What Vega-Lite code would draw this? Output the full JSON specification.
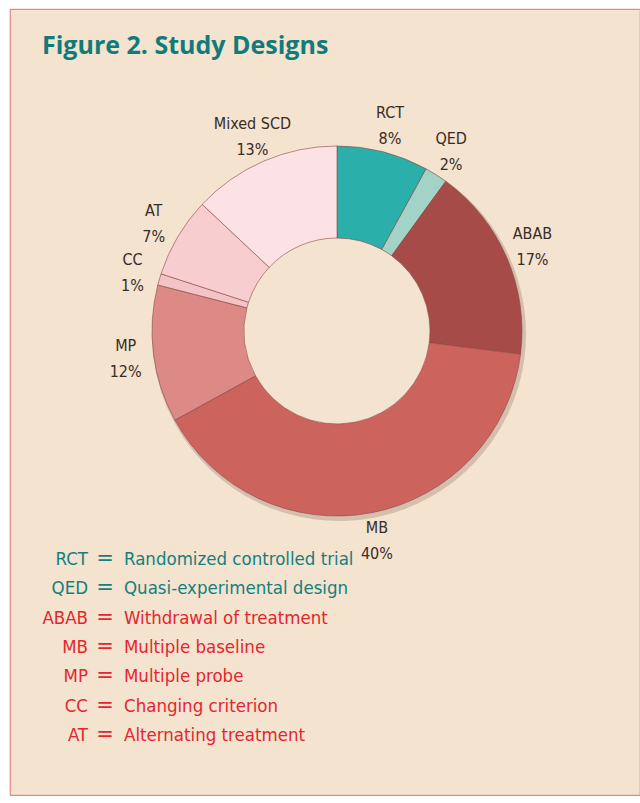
{
  "$schema": "https://vega.github.io/schema/vega-lite/v6.json",
  "autosize": {"type": "fit", "contains": "padding"},
  "width": 640,
  "height": 803,
  "padding": {"left": 10, "top": 9, "right": 0, "bottom": 8},
  "background": "white",
  "config": {"view": {"fill": "#f3e3cf", "stroke": "#e9868b", "strokeWidth": 1.2}},
  "title": {
    "text": "Figure 2. Study Designs",
    "anchor": "start",
    "frame": "group",
    "orient": "top",
    "offset": -48,
    "dy": 22,
    "baseline": "alphabetic",
    "dx": 32,
    "font": "Open Sans",
    "fontSize": 25,
    "fontWeight": "bold",
    "color": "#117b7a"
  },
  "datasets": {
    "designs": [
      {"name": "RCT", "value": 8, "pct": "8%", "order": 1},
      {"name": "QED", "value": 2, "pct": "2%", "order": 2},
      {"name": "ABAB", "value": 17, "pct": "17%", "order": 3},
      {"name": "MB", "value": 40, "pct": "40%", "order": 4},
      {"name": "MP", "value": 12, "pct": "12%", "order": 5},
      {"name": "CC", "value": 1, "pct": "1%", "order": 6},
      {"name": "AT", "value": 7, "pct": "7%", "order": 7},
      {"name": "Mixed SCD", "value": 13, "pct": "13%", "order": 8}
    ],
    "legend": [
      {"abbr": "RCT", "desc": "Randomized controlled trial", "row": 1},
      {"abbr": "QED", "desc": "Quasi-experimental design", "row": 2},
      {"abbr": "ABAB", "desc": "Withdrawal of treatment", "row": 3},
      {"abbr": "MB", "desc": "Multiple baseline", "row": 4},
      {"abbr": "MP", "desc": "Multiple probe", "row": 5},
      {"abbr": "CC", "desc": "Changing criterion", "row": 6},
      {"abbr": "AT", "desc": "Alternating treatment", "row": 7}
    ]
  },
  "layer": [
    {
      "data": {"name": "designs"},
      "mark": {"type": "arc", "innerRadius": 99, "outerRadius": 187, "x": 329, "y": 325, "fill": "#5a3028", "opacity": 0.2},
      "encoding": {
        "theta": {"field": "value", "type": "quantitative", "stack": true},
        "order": {"field": "order", "type": "quantitative"}
      }
    },
    {
      "data": {"name": "designs"},
      "mark": {"type": "arc", "innerRadius": 93, "outerRadius": 185, "x": 327, "y": 322, "stroke": "#8a4a48", "strokeWidth": 1, "strokeOpacity": 0.6},
      "encoding": {
        "theta": {"field": "value", "type": "quantitative", "stack": true},
        "order": {"field": "order", "type": "quantitative"},
        "color": {
          "field": "name",
          "type": "nominal",
          "scale": {
            "domain": ["RCT", "QED", "ABAB", "MB", "MP", "CC", "AT", "Mixed SCD"],
            "range": ["#2bafaa", "#a3d3c6", "#a64b47", "#cc635d", "#dd8985", "#f4c3c5", "#f8cdd0", "#fce2e4"]
          },
          "legend": null
        }
      }
    },
    {
      "data": {"name": "designs"},
      "mark": {"type": "text", "radius": 213, "x": 327, "y": 322, "dy": -12, "font": "DejaVu Sans Condensed", "fontSize": 16, "color": "#3a2c25"},
      "encoding": {
        "theta": {"field": "value", "type": "quantitative", "stack": true},
        "order": {"field": "order", "type": "quantitative"},
        "text": {"field": "name"}
      }
    },
    {
      "data": {"name": "designs"},
      "mark": {"type": "text", "radius": 213, "x": 327, "y": 322, "dy": 14, "font": "DejaVu Sans Condensed", "fontSize": 16, "color": "#3a2c25"},
      "encoding": {
        "theta": {"field": "value", "type": "quantitative", "stack": true},
        "order": {"field": "order", "type": "quantitative"},
        "text": {"field": "pct"}
      }
    },
    {
      "data": {"name": "legend"},
      "mark": {"type": "text", "align": "right", "baseline": "alphabetic", "font": "DejaVu Sans Condensed", "fontSize": 18.5},
      "encoding": {
        "x": {"value": 78},
        "y": {"field": "row", "type": "quantitative", "scale": {"domain": [1, 7], "range": [556, 732]}, "axis": null},
        "text": {"field": "abbr"},
        "color": {"condition": {"test": "datum.row <= 2", "value": "#13807e"}, "value": "#e3262f"}
      }
    },
    {
      "data": {"name": "legend"},
      "mark": {"type": "text", "align": "center", "baseline": "alphabetic", "font": "DejaVu Sans", "fontSize": 21, "text": "="},
      "encoding": {
        "x": {"value": 95},
        "y": {"field": "row", "type": "quantitative", "axis": null},
        "color": {"condition": {"test": "datum.row <= 2", "value": "#13807e"}, "value": "#e3262f"}
      }
    },
    {
      "data": {"name": "legend"},
      "mark": {"type": "text", "align": "left", "baseline": "alphabetic", "font": "DejaVu Sans Condensed", "fontSize": 18.5},
      "encoding": {
        "x": {"value": 114},
        "y": {"field": "row", "type": "quantitative", "axis": null},
        "text": {"field": "desc"},
        "color": {"condition": {"test": "datum.row <= 2", "value": "#13807e"}, "value": "#e3262f"}
      }
    }
  ]
}
